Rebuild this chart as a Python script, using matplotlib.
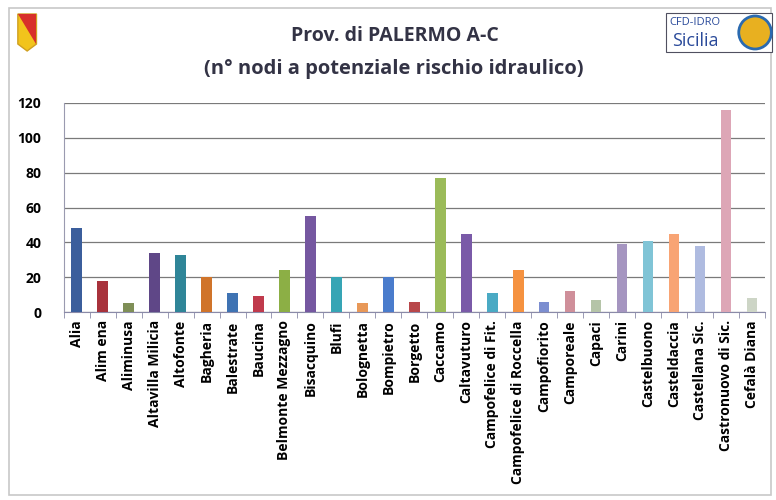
import matplotlib
matplotlib.use("Agg")
import matplotlib.pyplot as plt
from matplotlib.patches import Rectangle, Polygon, Ellipse

comuni = ["Alia", "Alim ena", "Aliminusa", "Altavilla Milicia", "Altofonte",
          "Bagheria", "Balestrate", "Baucina", "Belmonte Mezzagno", "Bisacquino",
          "Blufi", "Bolognetta", "Bompietro", "Borgetto", "Caccamo",
          "Caltavuturo", "Campofelice di Fit.", "Campofelice di Roccella",
          "Campofiorito", "Camporeale", "Capaci", "Carini", "Castelbuono",
          "Casteldaccia", "Castellana Sic.", "Castronuovo di Sic.", "Cefalà Diana"]
nodi = [48, 18, 5, 34, 33, 20, 11, 9, 24, 55, 20, 5, 20, 6, 77, 45, 11, 24,
        6, 12, 7, 39, 41, 45, 38, 116, 8]
colori = ["#3b5e9c", "#a8323c", "#7f8f57", "#5f4787", "#2f8598", "#d0742a",
          "#3f73b3", "#c03a4c", "#8caf45", "#7557a0", "#36a5b5", "#e89858",
          "#4a7ccc", "#b8474a", "#9bbb59", "#7a5aa8", "#4aaac4", "#f59240",
          "#7c8ed0", "#cf8f9a", "#b5c4a8", "#a595c0", "#80c4d6", "#f8a474",
          "#afbbe0", "#dda6b6", "#cdd5c6"]
yticks = [0, 20, 40, 60, 80, 100, 120]

plt.rcParams['font.family'] = ['Open Sans', 'DejaVu Sans']

fig = plt.figure(figsize=(7.76, 5), dpi=100)
ax = fig.add_axes([0.082, 0.376, 0.904, 0.418])

x = list(range(len(comuni)))
ax.bar(x, nodi, width=0.4, color=colori, zorder=3)

ax.set_ylim(0, 120)
ax.set_xlim(-0.5, len(comuni) - 0.5)
ax.set_yticks(yticks)
ax.set_yticklabels([str(v) for v in yticks], fontsize=10, fontweight="bold")
ax.set_xticks(x)
ax.set_xticklabels(comuni, rotation=90, fontsize=10, fontweight="bold")
ax.tick_params(axis="x", length=0, pad=6)
ax.tick_params(axis="y", length=0, pad=16)
# tick marks between categories, excel style
ax.set_xticks([i + 0.5 for i in range(-1, len(comuni))], minor=True)
ax.tick_params(axis="x", which="minor", length=4, color="#8a8aa8", direction="out")

ax.grid(axis="y", color="#7a7a7a", linewidth=0.9, zorder=0)
for s in ["top", "right"]:
    ax.spines[s].set_visible(False)
ax.spines["left"].set_color("#9a9ab0")
ax.spines["bottom"].set_color("#8a8aa8")

fig.text(0.509, 0.928, "Prov. di PALERMO A-C", ha="center", va="center",
         fontsize=14, fontweight="bold", color="#333345")
fig.text(0.507, 0.862, "(n° nodi a potenziale rischio idraulico)", ha="center",
         va="center", fontsize=14.5, fontweight="bold", color="#333345")

# outer frame
fig.patches.append(Rectangle((0.011, 0.01), 0.982, 0.975, transform=fig.transFigure,
                             fill=False, edgecolor="#c8c8c8", linewidth=1.2))

# emblem on the left
fig.patches.append(Polygon([(0.023, 0.972), (0.047, 0.972), (0.047, 0.912),
                            (0.035, 0.898), (0.023, 0.912)], closed=True,
                           transform=fig.transFigure, facecolor="#f2c41c",
                           edgecolor="#d0a020"))
fig.patches.append(Polygon([(0.023, 0.972), (0.047, 0.972), (0.047, 0.912)],
                           closed=True, transform=fig.transFigure,
                           facecolor="#d8302a", edgecolor="none"))

# CFD-IDRO logo on the right
fig.patches.append(Rectangle((0.858, 0.896), 0.137, 0.078, transform=fig.transFigure,
                             facecolor="white", edgecolor="#505060", linewidth=0.8))
fig.text(0.862, 0.955, "CFD-IDRO", fontsize=8, color="#2a4a9a", va="center")
fig.text(0.866, 0.918, "Sicilia", fontsize=13, color="#2a4a9a", va="center")
fig.patches.append(Ellipse((0.973, 0.935), 0.042, 0.066, transform=fig.transFigure,
                           facecolor="#e8b020", edgecolor="#2a6ab0", linewidth=2))

fig.savefig("out.png", dpi=100)
